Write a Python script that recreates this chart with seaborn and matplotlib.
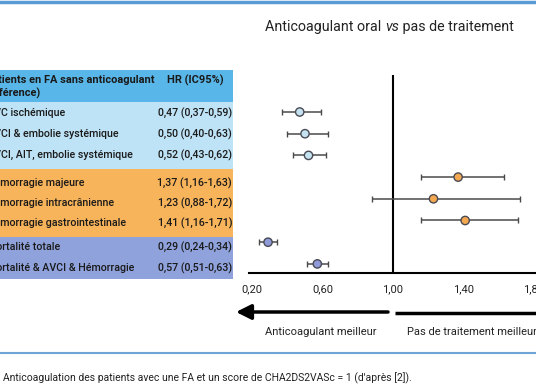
import numpy as np
import pandas as pd
import matplotlib.pyplot as plt
import seaborn as sns
from matplotlib.patches import Rectangle

# data
labels = ["AVC ischémique", "AVCI & embolie systémique", "AVCI, AIT, embolie systémique",
          "Hémorragie majeure", "Hémorragie intracrânienne", "Hémorragie gastrointestinale",
          "Mortalité totale", "Mortalité & AVCI & Hémorragie"]
hr = [0.47, 0.50, 0.52, 1.37, 1.23, 1.41, 0.29, 0.57]
ci_low = [0.37, 0.40, 0.43, 1.16, 0.88, 1.16, 0.24, 0.51]
ci_high = [0.59, 0.63, 0.62, 1.63, 1.72, 1.71, 0.34, 0.63]
group = ["isch", "isch", "isch", "hem", "hem", "hem", "mort", "mort"]
xticks = [0.20, 0.60, 1.00, 1.40, 1.80]

df = pd.DataFrame({"label": labels, "hr": hr, "lo": ci_low, "hi": ci_high,
                   "group": group, "row": range(len(labels))})

sns.set_style("white")
plt.rcParams['font.family'] = ['Roboto', 'DejaVu Sans']

W, H = 536, 386
fig = plt.figure(figsize=(W / 100, H / 100), dpi=100)

# background axes in pixel coordinates
bg = fig.add_axes([0, 0, 1, 1])
bg.set_xlim(0, W)
bg.set_ylim(H, 0)
bg.axis("off")

bg.plot([0, W], [1.5, 1.5], color="#5b9bd5", lw=2.5)
bg.plot([0, W], [353, 353], color="#6fa3d3", lw=1.5)

# table
bg.add_patch(Rectangle((0, 70), 233, 32, color="#58b6e8", lw=0))
bg.add_patch(Rectangle((0, 102), 233, 67, color="#bfe3f6", lw=0))
bg.add_patch(Rectangle((0, 169), 233, 68, color="#f8b45a", lw=0))
bg.add_patch(Rectangle((0, 237), 233, 42, color="#8fa2dc", lw=0))

tfs = 7.7
hfs = 7.9
xo = -14
bg.text(xo - 1, 80, "Patients en FA sans anticoagulant", fontsize=hfs, fontweight="bold",
        ha="left", va="center", color="#1a1a1a")
bg.text(xo - 1, 93, "(référence)", fontsize=hfs, fontweight="bold",
        ha="left", va="center", color="#1a1a1a")
bg.text(167, 80, "HR (IC95%)", fontsize=hfs, fontweight="bold",
        ha="left", va="center", color="#1a1a1a")
row_y = [113, 134, 155, 183, 203, 223, 247, 268]
for lab, h, lo, hi, yy in zip(labels, hr, ci_low, ci_high, row_y):
    bg.text(xo + 1, yy, lab, fontsize=tfs, fontweight="medium", ha="left", va="center", color="#1a1a1a")
    val = f"{h:.2f} ({lo:.2f}-{hi:.2f})".replace(".", ",")
    bg.text(232, yy, val, fontsize=tfs, fontweight="medium", ha="right", va="center", color="#1a1a1a")

# title, with "vs" in italics
fig.canvas.draw()
r = fig.canvas.get_renderer()
parts = [("Anticoagulant oral ", "normal"), ("vs", "italic"), (" pas de traitement", "normal")]
x = 265
for txt, st in parts:
    t = bg.text(x, 27, txt, fontsize=10.3, style=st, ha="left", va="center", color="#222")
    bb = t.get_window_extent(renderer=r)
    x += bb.width * 100 / fig.dpi

# arrows
bg.annotate("", xy=(236, 312), xytext=(388, 312),
            arrowprops=dict(arrowstyle="-|>,head_length=0.9,head_width=0.45",
                            lw=2.5, color="black", shrinkA=0, shrinkB=0))
bg.plot([395, W], [313, 313], color="black", lw=2.5, solid_capstyle="butt")
bg.text(321, 332, "Anticoagulant meilleur", fontsize=8.0, ha="center", va="center", color="#222")
bg.text(407, 332, "Pas de traitement meilleur", fontsize=8.0, ha="left", va="center", color="#222")

# caption
bg.text(3, 378, "Anticoagulation des patients avec une FA et un score de CHA2DS2VASc = 1 (d'après [2]).",
        fontsize=7.45, ha="left", va="center", color="#222")

# forest plot axes
xmin, xmax = 0.18, 1.90
scale = 176.0
left_px = 393 - (1.0 - xmin) * scale
width_px = (xmax - xmin) * scale
top_px, bot_px = 75, 273
row0, drow = 112, 21.7
ax = fig.add_axes([left_px / W, 1 - bot_px / H, width_px / W, (bot_px - top_px) / H])
ax.patch.set_alpha(0)

ax.errorbar(df["hr"], df["row"],
            xerr=[df["hr"] - df["lo"], df["hi"] - df["hr"]],
            fmt="none", ecolor="#4a4a4a", elinewidth=1.1, capsize=2.5, capthick=1.0, zorder=2)
pal = {"isch": "#c4e2f0", "hem": "#f3a84f", "mort": "#8f9ad8"}
sns.scatterplot(data=df, x="hr", y="row", hue="group", palette=pal, s=36,
                edgecolor="#4a4a55", linewidth=1.0, legend=False, ax=ax, zorder=3)

ax.axvline(1.0, color="black", lw=1.5, zorder=1)
ax.set_xlim(xmin, xmax)
ax.set_ylim((bot_px - row0) / drow, -(row0 - top_px) / drow)
ax.set_xticks(xticks)
ax.set_xticklabels([f"{t:.2f}".replace(".", ",") for t in xticks], fontsize=8, color="#222")
ax.tick_params(axis="x", length=0, pad=8)
ax.set_yticks([])
ax.set_xlabel("")
ax.set_ylabel("")
for s in ["top", "right", "left"]:
    ax.spines[s].set_visible(False)
ax.spines["bottom"].set_color("black")
ax.spines["bottom"].set_linewidth(1.5)

fig.savefig("out.png", dpi=100)
